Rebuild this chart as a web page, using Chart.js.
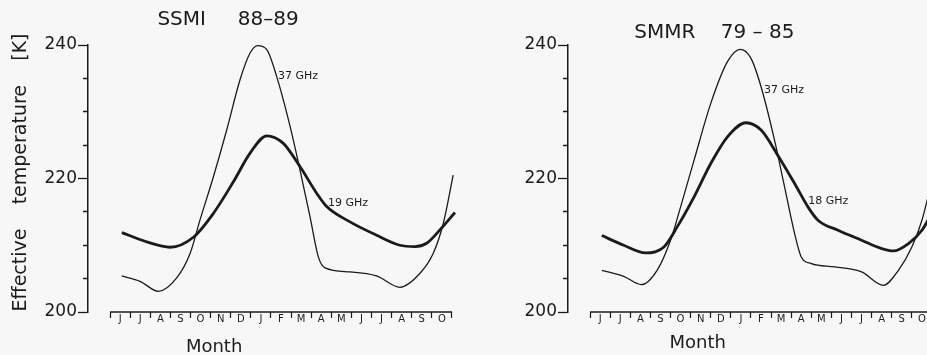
<!DOCTYPE html>
<html>
<head>
<meta charset="utf-8">
<script src="https://cdn.jsdelivr.net/npm/chart.js@4.4.1/dist/chart.umd.min.js"></script>
<style>
  html, body { margin: 0; padding: 0; background: #f6f7f6; }
  #wrap { position: relative; width: 927px; height: 355px; overflow: hidden; background: #f6f7f6; }
  #wrap canvas { position: absolute; top: 0; }
  #left { left: 0; }
  #right { left: 480px; }
</style>
</head>
<body>
<div id="wrap">
  <canvas id="left" width="465" height="355"></canvas>
  <canvas id="right" width="465" height="355"></canvas>
</div>
<script>
// month ticks along the bottom (June .. October of the following year)
const months = ['J','J','A','S','O','N','D','J','F','M','A','M','J','J','A','S','O'];

// SSMI 88-89, month position / effective temperature (K)
const ssmi19x = [0.58,1.82,2.98,4.14,5.14,6.13,6.96,7.79,8.6,9.44,10.27,10.77,11.93,13.25,14.41,15.16,15.74,16.4,17.15];
const ssmi19 = [211.9,210.5,209.7,211.2,214.8,219.5,223.8,226.4,225.3,221.8,217.8,215.8,213.5,211.5,210.0,209.8,210.3,212.3,214.9];
const ssmi37x = [0.58,1.49,2.4,3.31,3.98,4.47,5.14,5.8,6.46,6.96,7.34,7.79,8.28,8.95,9.44,9.94,10.35,10.69,11.93,13.25,14.41,15.41,16.07,16.57,17.06];
const ssmi37 = [205.4,204.6,203.1,205.1,208.8,213.8,220.3,227.3,234.8,238.8,239.9,239.3,235.3,227.8,221.3,214.3,208.3,206.6,206.0,205.4,203.7,205.8,208.8,213.3,220.5];

// SMMR 79-85
const smmr18x = [0.58,1.67,2.75,3.67,4.33,5.17,6.0,6.83,7.75,8.5,9.33,10.17,10.83,11.33,12.33,13.5,14.5,15.08,15.83,16.5,17.15];
const smmr18 = [211.45,210.0,208.85,209.75,212.75,217.25,222.25,226.25,228.35,227.25,223.5,219.25,215.75,213.75,212.25,210.75,209.5,209.15,210.25,212.25,215.7];
const smmr37x = [0.58,1.67,2.55,3.33,4.0,4.5,5.17,6.0,6.83,7.47,8.0,8.5,9.17,9.67,10.17,10.5,11.0,12.17,13.5,14.58,15.33,16.0,16.5,17.1];
const smmr37 = [206.25,205.35,204.1,206.25,210.75,215.75,222.75,231.25,237.5,239.35,238.0,233.75,225.75,218.75,211.75,208.25,207.25,206.75,206.0,204.0,206.25,209.75,213.75,221.0];

const ink = '#1b1b1b';
Chart.defaults.font.family = '"DejaVu Sans", sans-serif';
Chart.defaults.color = ink;

function pts(xs, ys) {
  return xs.map((x, i) => ({x: x, y: ys[i]}));
}

// curve labels, month axis line and "Month" caption
const notesPlugin = {
  id: 'notes',
  afterDatasetsDraw(chart, args, opts) {
    const ctx = chart.ctx;
    const xs = chart.scales.x, ys = chart.scales.y;
    const bottom = chart.chartArea.bottom;
    ctx.save();
    ctx.strokeStyle = ink;
    ctx.lineWidth = 1.5;
    ctx.beginPath();
    ctx.moveTo(xs.getPixelForValue(0), bottom);
    ctx.lineTo(xs.getPixelForValue(months.length), bottom);
    ctx.stroke();
    ctx.fillStyle = ink;
    ctx.textBaseline = 'middle';
    ctx.font = '11px "DejaVu Sans"';
    opts.labels.forEach(l => ctx.fillText(l.text, xs.getPixelForValue(l.x), ys.getPixelForValue(l.y)));
    ctx.font = '18px "DejaVu Sans"';
    ctx.textAlign = 'center';
    ctx.fillText('Month', xs.getPixelForValue(opts.monthAt), bottom + opts.monthDy);
    ctx.restore();
  }
};

function panel(id, title, titlePad, yTitle, thin, thick, notes) {
  return new Chart(document.getElementById(id), {
    type: 'line',
    data: {
      datasets: [
        { data: thin, borderColor: ink, borderWidth: 1.3, pointRadius: 0, cubicInterpolationMode: 'monotone' },
        { data: thick, borderColor: ink, borderWidth: 2.8, pointRadius: 0, cubicInterpolationMode: 'monotone' }
      ]
    },
    options: {
      responsive: false,
      animation: false,
      layout: { padding: { left: 0, right: 9, top: 0, bottom: 0 } },
      plugins: {
        legend: { display: false },
        tooltip: { enabled: false },
        title: {
          display: true,
          text: title,
          font: { size: 20, weight: 'normal' },
          padding: titlePad
        },
        notes: notes
      },
      scales: {
        x: {
          type: 'linear',
          min: -1.1,
          max: 17.2,
          afterBuildTicks: s => { s.ticks = months.concat(['']).map((m, i) => ({value: i})); },
          afterFit: s => { s.height = 43; },
          border: { display: false },
          grid: { drawOnChartArea: false, tickLength: 6, tickColor: ink, tickWidth: 1.2 },
          ticks: {
            callback: (v, i) => months[i] || '',
            labelOffset: 10,
            padding: -5,
            autoSkip: false,
            maxRotation: 0,
            font: { size: 10 }
          }
        },
        y: {
          min: 200,
          max: 240,
          afterFit: s => { s.width = 88; },
          border: { display: true, color: ink, width: 1.5 },
          grid: {
            drawOnChartArea: false,
            tickLength: 10,
            tickColor: ink,
            tickWidth: 1.3,
            tickBorderDash: c => (c.tick && c.tick.value % 20 !== 0) ? [0, 5, 10] : []
          },
          ticks: {
            stepSize: 5,
            padding: 1,
            font: { size: 17 },
            callback: v => v % 20 === 0 ? v : ''
          },
          title: {
            display: yTitle !== '',
            text: yTitle,
            font: { size: 19 },
            padding: { top: 10, bottom: 0 }
          }
        }
      }
    },
    plugins: [notesPlugin]
  });
}

panel('left', 'SSMI     88–89', { top: 8, bottom: 13 }, '  Effective    temperature    [K]',
  pts(ssmi37x, ssmi37), pts(ssmi19x, ssmi19),
  { labels: [{ text: '37 GHz', x: 8.35, y: 235.4 }, { text: '19 GHz', x: 10.83, y: 216.3 }], monthAt: 5.17, monthDy: 35 });

panel('right', '  SMMR    79 – 85', { top: 21, bottom: 0 }, '',
  pts(smmr37x, smmr37), pts(smmr18x, smmr18),
  { labels: [{ text: '37 GHz', x: 8.65, y: 233.3 }, { text: '18 GHz', x: 10.85, y: 216.6 }], monthAt: 5.35, monthDy: 31 });
</script>
</body>
</html>
